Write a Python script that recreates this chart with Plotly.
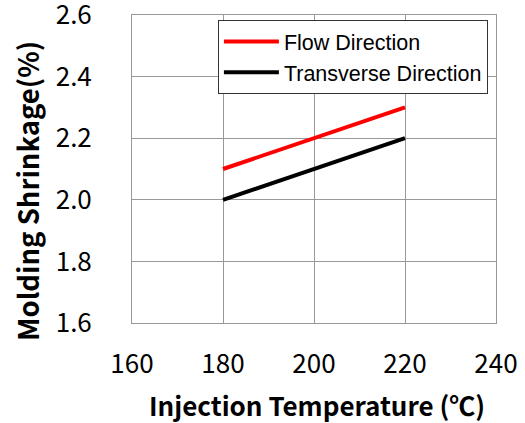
import plotly.graph_objects as go

temps = [180, 220]
flow = [2.1, 2.3]
transverse = [2.0, 2.2]
x_ticks = [160, 180, 200, 220, 240]
y_ticks = [1.6, 1.8, 2.0, 2.2, 2.4, 2.6]

fig = go.Figure()
fig.add_trace(go.Scatter(x=temps, y=flow, mode="lines", name="Flow Direction",
                         line=dict(color="#ff0000", width=4), legendgroup="a"))
fig.add_trace(go.Scatter(x=temps, y=transverse, mode="lines", name="Transverse Direction",
                         line=dict(color="#000000", width=4), legendgroup="b"))

grid = "#999999"
tickfont = dict(family="Noto Sans CJK KR", size=26, color="#000000")
fig.update_layout(
    width=525, height=423,
    margin=dict(l=132, r=29, t=15, b=100),
    paper_bgcolor="white", plot_bgcolor="white",
    showlegend=True,
    legend=dict(x=0.236, y=0.984, xanchor="left", yanchor="top",
                bgcolor="white", bordercolor="#333333", borderwidth=1,
                font=dict(family="Liberation Sans", size=21.5, color="#000000"),
                tracegroupgap=0, itemwidth=55),
    xaxis=dict(range=[160, 240], tickvals=x_ticks, showgrid=True, gridcolor=grid, gridwidth=1,
               showline=True, linecolor=grid, linewidth=1, mirror=True, zeroline=False,
               ticks="", tickfont=tickfont, ticklabelstandoff=18, automargin=False,
               ticklabeloverflow="allow"),
    yaxis=dict(range=[1.6, 2.6], tickvals=y_ticks, tickformat=".1f", showgrid=True,
               gridcolor=grid, gridwidth=1, showline=True, linecolor=grid, linewidth=1,
               mirror=True, zeroline=False, ticks="", tickfont=tickfont, ticklabelstandoff=34,
               automargin=False, ticklabeloverflow="allow"),
    annotations=[
        dict(text="<b>Injection Temperature (℃)</b>", xref="paper", yref="paper",
             x=0.508, y=-0.263, xanchor="center", yanchor="middle", showarrow=False,
             font=dict(family="Noto Sans CJK KR", size=26, color="#000000")),
        dict(text="<b>Molding Shrinkage(%)</b>", xref="paper", yref="paper",
             x=-0.29, y=0.43, xanchor="center", yanchor="middle", showarrow=False,
             textangle=-90,
             font=dict(family="Noto Sans CJK KR", size=27.5, color="#000000")),
    ],
)

fig.write_html("out.html", config={"displayModeBar": False},
               post_script="document.body.style.margin='0';")
